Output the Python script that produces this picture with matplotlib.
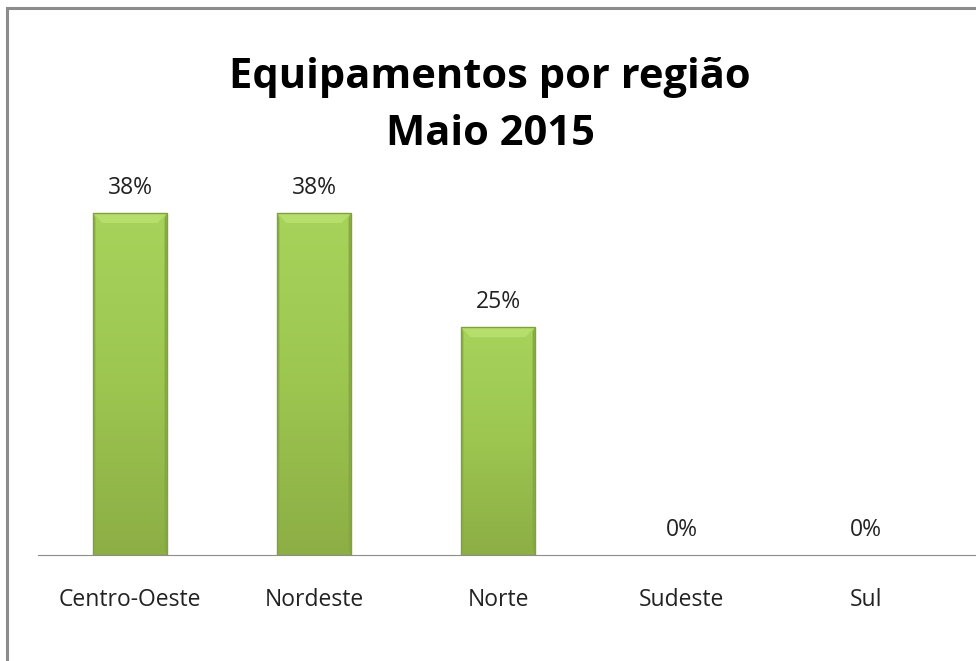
import numpy as np
import matplotlib
matplotlib.use('Agg')
import matplotlib.pyplot as plt
from matplotlib.patches import Rectangle
from matplotlib.colors import LinearSegmentedColormap

regioes = ['Centro-Oeste', 'Nordeste', 'Norte', 'Sudeste', 'Sul']
valores = [0.375, 0.375, 0.25, 0.0, 0.0]
rotulos = ['38%', '38%', '25%', '0%', '0%']
titulo = 'Equipamentos por região\nMaio 2015'

plt.rcParams['font.family'] = ['Open Sans', 'DejaVu Sans']

fig = plt.figure(figsize=(9.76, 6.61), dpi=100)
W, H = 976.0, 661.0

# chart frame (runs past the right and bottom edges, like the original)
fig.patches.append(Rectangle((7 / W, -0.1), 1.2, (H - 8) / H + 0.1,
                             transform=fig.transFigure, fill=False,
                             edgecolor='#8c8c8c', linewidth=2.2))

ax = fig.add_axes([38 / W, (H - 555) / H, (975 - 38) / W, 405 / H])
x = np.arange(len(regioes))
barras = ax.bar(x, valores, width=0.4, color='none', edgecolor='none')

verde = LinearSegmentedColormap.from_list('verde', ['#8DAE45', '#9CC650', '#A7D35B'])
grad = np.linspace(0, 1, 256).reshape(-1, 1)
for b, v in zip(barras, valores):
    if v <= 0:
        continue
    x0, w = b.get_x(), b.get_width()
    im = ax.imshow(grad, extent=(x0, x0 + w, 0, v), origin='lower', aspect='auto',
                   cmap=verde, zorder=2)
    im.set_clip_path(b)
    # bevel: light top, darker sides
    d = 0.011
    ax.fill([x0, x0 + w, x0 + w - 0.05, x0 + 0.05], [v, v, v - d, v - d],
            color='#B5DE6C', lw=0, zorder=3)
    ax.fill([x0, x0 + 0.012, x0 + 0.012, x0], [0, 0.006, v - 0.006, v],
            color='#8AAE44', lw=0, zorder=3)
    ax.fill([x0 + w, x0 + w - 0.012, x0 + w - 0.012, x0 + w], [0, 0.006, v - 0.006, v],
            color='#86A840', lw=0, zorder=3)
    ax.add_patch(Rectangle((x0, 0), w, v, fill=False, edgecolor='#82A03E',
                           linewidth=1.0, zorder=4))

for xi, v, r in zip(x, valores, rotulos):
    ax.text(xi, v + 0.027, r, ha='center', va='center', fontsize=16.5, color='#222222')

ax.set_xlim(-0.5, (975 - 38) / 184 - 0.5)
ax.set_ylim(0, 405 / 912)
ax.set_xticks(x)
ax.set_xticklabels(regioes, fontsize=16.5, color='#222222')
ax.tick_params(axis='x', length=0, pad=24)
ax.set_yticks([])
for s in ['top', 'right', 'left']:
    ax.spines[s].set_visible(False)
ax.spines['bottom'].set_color('#8c8c8c')
ax.spines['bottom'].set_zorder(5)

fig.text(490 / W, 1 - 106 / H, titulo, ha='center', va='center',
         fontsize=30, fontweight='bold', linespacing=1.5)

fig.savefig('out.png', dpi=100)
